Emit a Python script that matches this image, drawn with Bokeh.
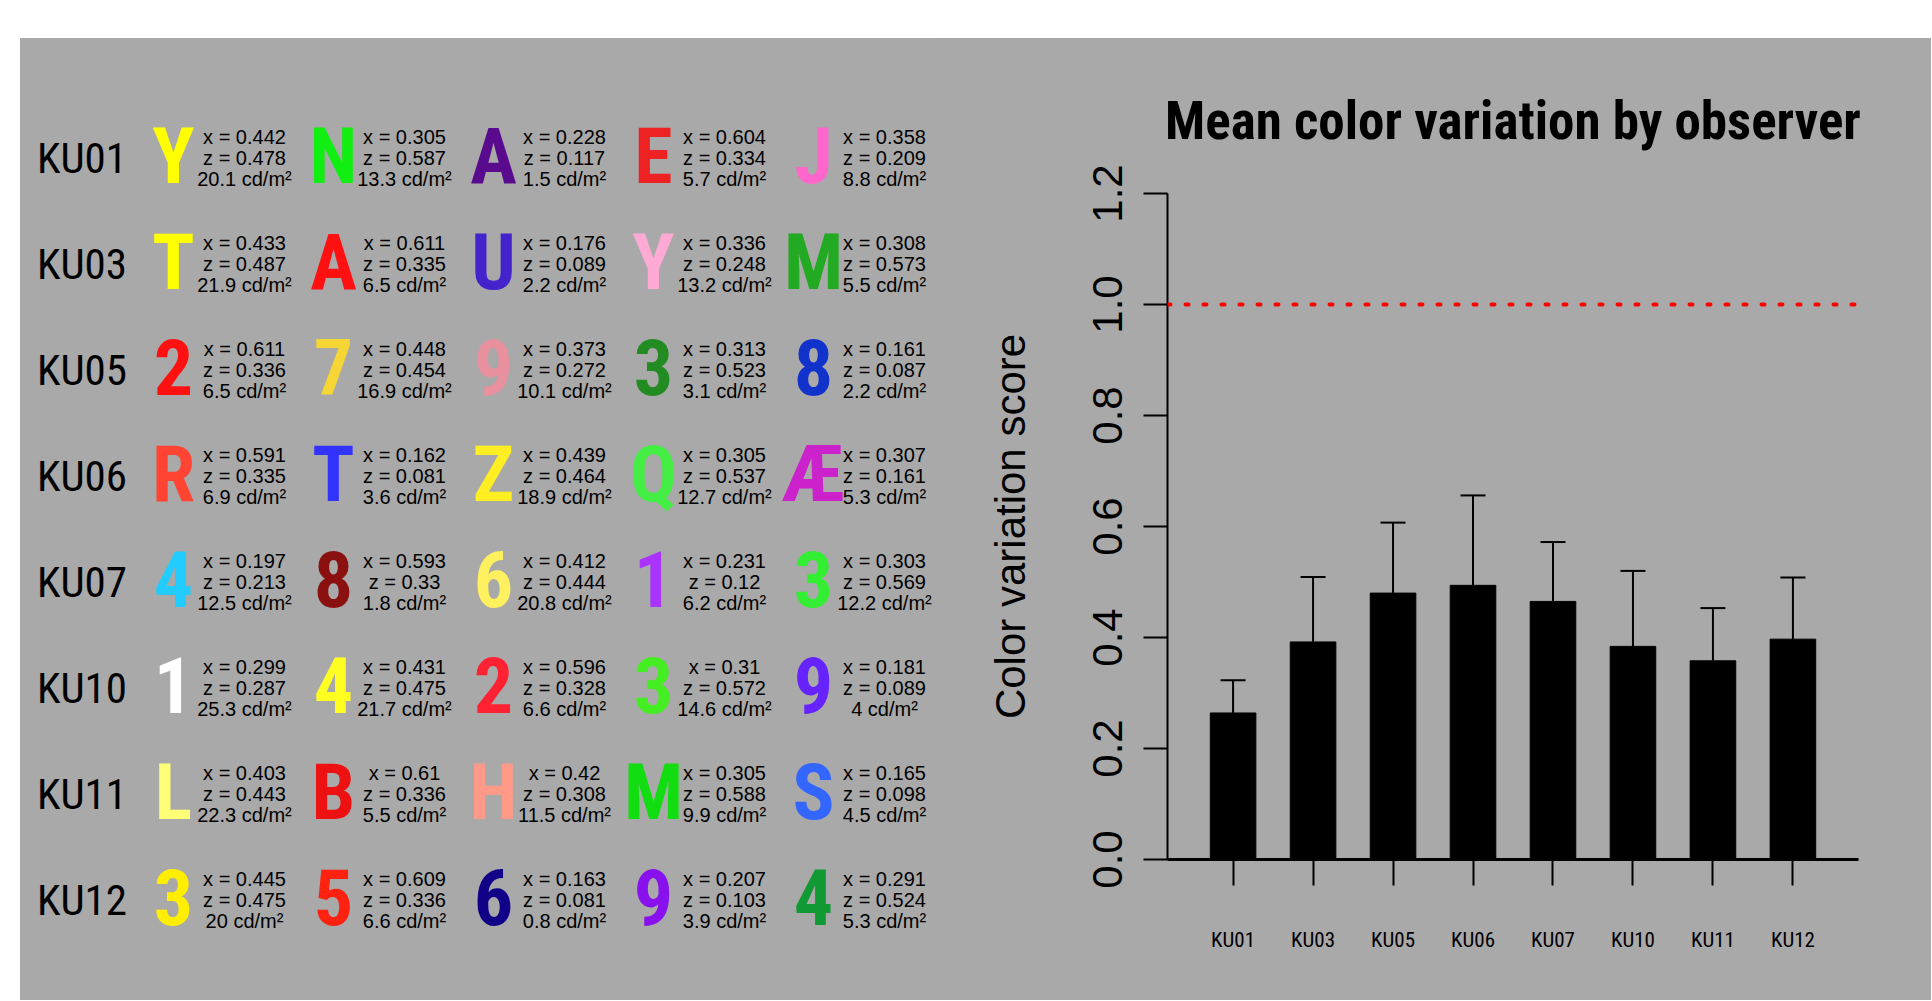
from bokeh.plotting import figure
from bokeh.models import (ColumnDataSource, Range1d, FactorRange, Span, Whisker, TeeHead,
                          FixedTicker, NumeralTickFormatter, Spacer, LabelSet)
from bokeh.layouts import row, column
from bokeh.core.properties import value
from bokeh.embed import file_html
from bokeh.resources import INLINE

# ---------------- data ----------------
observers = ["KU01", "KU03", "KU05", "KU06", "KU07", "KU10", "KU11", "KU12"]

letters = [
    ["Y", "N", "A", "E", "J"],
    ["T", "A", "U", "Y", "M"],
    ["2", "7", "9", "3", "8"],
    ["R", "T", "Z", "Q", "Æ"],
    ["4", "8", "6", "1", "3"],
    ["1", "4", "2", "3", "9"],
    ["L", "B", "H", "M", "S"],
    ["3", "5", "6", "9", "4"],
]

letter_colors = [
    ["#FFFF00", "#11EE11", "#5A0A8C", "#EE2222", "#FF66CC"],
    ["#FFFF00", "#FF1111", "#4422CC", "#FFAAD4", "#22AA22"],
    ["#FF1111", "#F5D634", "#E8909E", "#228B22", "#1133CC"],
    ["#FF4433", "#3333FF", "#FFEE22", "#44EE44", "#CC22CC"],
    ["#22CCFF", "#8B1010", "#FFF060", "#AA33FF", "#33EE33"],
    ["#FFFFFF", "#FFFF22", "#FF2233", "#44EE22", "#6622FF"],
    ["#FFFF77", "#EE1111", "#FF9988", "#11DD11", "#3366FF"],
    ["#FFEE00", "#FF2211", "#110088", "#8811EE", "#119933"],
]

chroma_x = [
    [0.442, 0.305, 0.228, 0.604, 0.358],
    [0.433, 0.611, 0.176, 0.336, 0.308],
    [0.611, 0.448, 0.373, 0.313, 0.161],
    [0.591, 0.162, 0.439, 0.305, 0.307],
    [0.197, 0.593, 0.412, 0.231, 0.303],
    [0.299, 0.431, 0.596, 0.31, 0.181],
    [0.403, 0.61, 0.42, 0.305, 0.165],
    [0.445, 0.609, 0.163, 0.207, 0.291],
]

chroma_z = [
    [0.478, 0.587, 0.117, 0.334, 0.209],
    [0.487, 0.335, 0.089, 0.248, 0.573],
    [0.336, 0.454, 0.272, 0.523, 0.087],
    [0.335, 0.081, 0.464, 0.537, 0.161],
    [0.213, 0.33, 0.444, 0.12, 0.569],
    [0.287, 0.475, 0.328, 0.572, 0.089],
    [0.443, 0.336, 0.308, 0.588, 0.098],
    [0.475, 0.336, 0.081, 0.103, 0.524],
]

luminance = [
    [20.1, 13.3, 1.5, 5.7, 8.8],
    [21.9, 6.5, 2.2, 13.2, 5.5],
    [6.5, 16.9, 10.1, 3.1, 2.2],
    [6.9, 3.6, 18.9, 12.7, 5.3],
    [12.5, 1.8, 20.8, 6.2, 12.2],
    [25.3, 21.7, 6.6, 14.6, 4],
    [22.3, 5.5, 11.5, 9.9, 4.5],
    [20, 6.6, 0.8, 3.9, 5.3],
]

mean_score = [0.264, 0.392, 0.480, 0.494, 0.465, 0.384, 0.358, 0.397]
score_error = [0.059, 0.117, 0.127, 0.162, 0.107, 0.136, 0.095, 0.111]

y_ticks = [0.0, 0.2, 0.4, 0.6, 0.8, 1.0, 1.2]
threshold = 1.0

# ---------------- styles ----------------
GRAY = "#A9A9A9"
NARROW = "Roboto Condensed, Liberation Sans Narrow, DejaVu Sans Condensed, sans-serif"
SANS = "Liberation Sans"

FIG_H = 962

# ---------------- left panel: letter grid ----------------
cols, rows_, lets, colors, xt, zt, lt = [], [], [], [], [], [], []
for j, obs in enumerate(observers):
    for i in range(len(letters[j])):
        cols.append(i)
        rows_.append(j)
        lets.append(letters[j][i])
        colors.append(letter_colors[j][i])
        xt.append(f"x = {chroma_x[j][i]:g}")
        zt.append(f"z = {chroma_z[j][i]:g}")
        lt.append(f"{luminance[j][i]:g} cd/m²")

grid_src = ColumnDataSource(dict(col=cols, row=rows_, letter=lets, color=colors,
                                 xt=xt, zt=zt, lt=lt))
label_src = ColumnDataSource(dict(col=[0] * len(observers),
                                  row=list(range(len(observers))),
                                  name=observers))

left = figure(width=920, height=FIG_H,
              x_range=Range1d(-0.95625, 4.79375),
              y_range=Range1d(7.9509, -1.1331),
              toolbar_location=None, output_backend="svg",
              min_border=0,
              x_axis_location=None, y_axis_location=None,
              background_fill_color=GRAY, border_fill_color=GRAY,
              outline_line_color=None)
for g in left.grid:
    g.visible = False

left.add_layout(LabelSet(x="col", y="row", text="name", source=label_src,
                         x_offset=-91.5, y_offset=-15,
                         text_align="center", text_baseline="alphabetic",
                         text_font=value(NARROW), text_font_size="43px",
                         text_color="black"))

left.add_layout(LabelSet(x="col", y="row", text="letter", source=grid_src,
                         y_offset=-25, text_align="center", text_baseline="alphabetic",
                         text_font=value(NARROW), text_font_style="bold",
                         text_font_size="78px", text_color="color"))

for field, dy in (("xt", -14), ("zt", 7), ("lt", 28)):
    left.add_layout(LabelSet(x="col", y="row", text=field, source=grid_src,
                             x_offset=71, y_offset=-dy,
                             text_align="center", text_baseline="alphabetic",
                             text_font=value(SANS), text_font_size="20px",
                             text_color="black"))

# ---------------- right panel: bar chart ----------------
bar_src = ColumnDataSource(dict(
    obs=observers,
    mean=mean_score,
    upper=[m + e for m, e in zip(mean_score, score_error)],
))

right = figure(width=991, height=FIG_H,
               x_range=FactorRange(factors=observers, range_padding=0.32,
                                   range_padding_units="absolute"),
               y_range=Range1d(0, 1.2),
               toolbar_location=None, output_backend="svg",
               min_border_left=227, min_border_right=73,
               min_border_top=155, min_border_bottom=141,
               background_fill_color=GRAY, border_fill_color=GRAY,
               outline_line_color=None,
               title="Mean color variation by observer")
right.grid.visible = False

for fig in (left, right):
    if "frame_align" in fig.properties():
        fig.frame_align = False

right.title.text_font = NARROW
right.title.text_font_size = "53px"
right.title.text_font_style = "bold"
right.title.text_color = "black"
right.title.align = "center"
right.title.standoff = 84

right.vbar(x="obs", top="mean", bottom=0, width=0.57, source=bar_src,
           fill_color="black", line_color="black")

right.add_layout(Whisker(source=bar_src, base="obs", lower="mean", upper="upper",
                         line_color="black", line_width=2,
                         upper_head=TeeHead(size=25, line_color="black", line_width=2),
                         lower_head=None))

right.add_layout(Span(location=threshold, dimension="width", line_color="#FF0000",
                      line_width=4, line_dash="3 15", line_cap="round"))

yax = right.yaxis[0]
yax.ticker = FixedTicker(ticks=y_ticks)
yax.formatter = NumeralTickFormatter(format="0.0")
yax.major_label_orientation = "vertical"
yax.major_label_text_font = SANS
yax.major_label_text_font_size = "42px"
yax.major_label_text_color = "black"
yax.major_label_standoff = 22
yax.major_tick_out = 24
yax.major_tick_in = 0
yax.major_tick_line_width = 2
yax.minor_tick_line_color = None
yax.axis_line_width = 2
yax.axis_label = "Color variation score"
yax.axis_label_text_font = SANS
yax.axis_label_text_font_size = "42px"
yax.axis_label_text_font_style = "normal"
yax.axis_label_text_color = "black"
yax.axis_label_standoff = 56

xax = right.xaxis[0]
xax.major_label_text_font = NARROW
xax.major_label_text_font_size = "21px"
xax.major_label_text_color = "black"
xax.major_label_standoff = 42
xax.major_tick_out = 26
xax.major_tick_in = 0
xax.major_tick_line_width = 2
xax.axis_line_width = 3

layout = column(Spacer(height=38),
                row(Spacer(width=20),
                    row(left, right, styles={"background-color": GRAY})))

open("out.html", "w").write(file_html(layout, INLINE))
